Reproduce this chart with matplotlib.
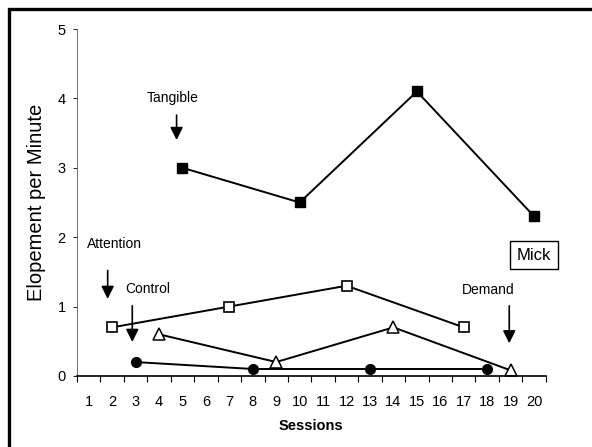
import matplotlib
matplotlib.use('Agg')
import matplotlib.pyplot as plt
from matplotlib.lines import Line2D

# sessions and elopement rates per condition
tangible_x = [5, 10, 15, 20]
tangible_y = [3.0, 2.5, 4.1, 2.3]
attention_x = [2, 7, 12, 17]
attention_y = [0.7, 1.0, 1.3, 0.7]
demand_x = [4, 9, 14, 19]
demand_y = [0.6, 0.2, 0.7, 0.08]
control_x = [3, 8, 13, 18]
control_y = [0.2, 0.1, 0.1, 0.1]

sessions = list(range(1, 21))
yticks = [0, 1, 2, 3, 4, 5]

narrow = ['Liberation Sans Narrow', 'Liberation Sans', 'DejaVu Sans']

fig = plt.figure(figsize=(5.92, 4.47), dpi=100)
ax = fig.add_axes([0.130, 0.159, 0.792, 0.776])

lw = 1.4
ax.plot(tangible_x, tangible_y, color='black', lw=lw, marker='s', ms=7,
        mfc='black', mec='black', clip_on=False)
ax.plot(attention_x, attention_y, color='black', lw=lw, marker='s', ms=7.5,
        mfc='white', mec='black', mew=1.2, clip_on=False)
ax.plot(demand_x, demand_y, color='black', lw=lw, marker='^', ms=8,
        mfc='white', mec='black', mew=1.1, clip_on=False)
ax.plot(control_x, control_y, color='black', lw=lw, marker='o', ms=7,
        mfc='black', mec='black', clip_on=False)

ax.set_xlim(0.5, 20.5)
ax.set_ylim(0, 5)
ax.set_xticks([s + 0.5 for s in range(0, 21)])
ax.set_xticklabels([])
ax.set_xticks(sessions, minor=True)
ax.set_xticklabels([str(s) for s in sessions], minor=True, family=narrow, fontsize=10.5)
ax.tick_params(axis='x', which='major', direction='out', length=4, width=0.8)
ax.tick_params(axis='x', which='minor', length=0, pad=14)
ax.set_yticks(yticks)
ax.set_yticklabels([str(v) for v in yticks], family=narrow, fontsize=10.5)
ax.tick_params(axis='y', direction='out', length=3, width=0.6, pad=5)

for side in ['top', 'right']:
    ax.spines[side].set_visible(False)
ax.spines['left'].set_linewidth(0.6)
ax.spines['left'].set_color('#555555')
ax.spines['bottom'].set_linewidth(1.2)

ax.set_ylabel('Elopement per Minute', fontsize=14.5, family=['Liberation Sans', 'DejaVu Sans'],
              labelpad=8)
ax.set_xlabel('Sessions', fontsize=10.5, fontweight='bold', family=narrow, labelpad=7)

arrow = dict(arrowstyle='-|>', color='black', lw=1.2, mutation_scale=19)
ax.annotate('', xy=(4.75, 3.36), xytext=(4.75, 3.8), arrowprops=arrow)
ax.text(4.6, 4.0, 'Tangible', ha='center', va='center', family=narrow, fontsize=10)
ax.annotate('', xy=(1.81, 1.07), xytext=(1.81, 1.56), arrowprops=arrow)
ax.text(2.1, 1.9, 'Attention', ha='center', va='center', family=narrow, fontsize=10)
ax.annotate('', xy=(2.86, 0.45), xytext=(2.86, 1.05), arrowprops=arrow)
ax.text(3.5, 1.25, 'Control', ha='center', va='center', family=narrow, fontsize=10)
ax.annotate('', xy=(18.94, 0.43), xytext=(18.94, 1.05), arrowprops=arrow)
ax.text(18.05, 1.24, 'Demand', ha='center', va='center', family=narrow, fontsize=10)
ax.text(20.0, 1.74, 'Mick', ha='center', va='center', family=narrow, fontsize=12,
        bbox=dict(boxstyle='square,pad=0.4', fc='white', ec='black', lw=1.0))

# page border (top and left edges)
bx = 8.5 / 592
by = 1 - 8.5 / 447
fig.add_artist(Line2D([bx, bx, 1], [0, by, by], transform=fig.transFigure,
                      color='black', lw=2.4, solid_joinstyle='miter'))

fig.savefig('out.png', dpi=100)
